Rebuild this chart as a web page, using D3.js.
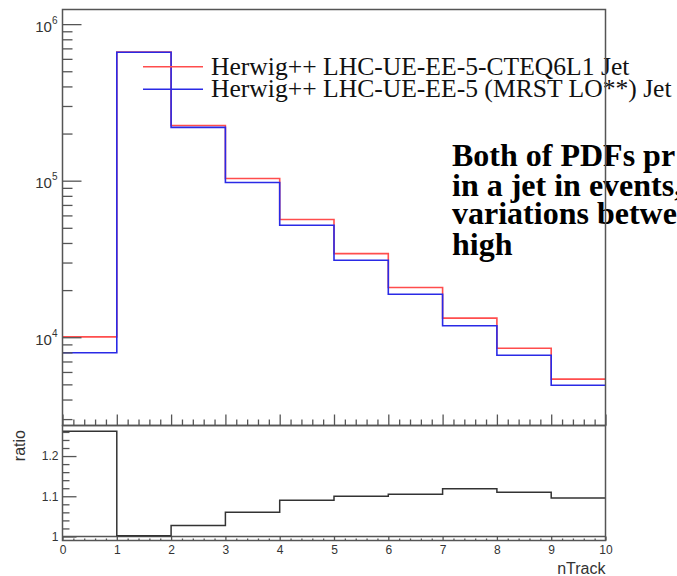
<!DOCTYPE html>
<html>
<head>
<meta charset="utf-8">
<script src="https://cdn.jsdelivr.net/npm/d3@7"></script>
<style>
  html, body { margin: 0; padding: 0; background: #fff; }
  svg { display: block; }
</style>
</head>
<body>
<svg id="chart" width="677" height="576"></svg>
<script>
// nTrack bin edges (10 unit-wide bins)
const binEdges = [0, 1, 2, 3, 4, 5, 6, 7, 8, 9, 10];

// Entries per bin for the two tunes
const cteqValues = [10050, 662000, 225000, 103300, 56500, 34200, 20800, 13240, 8510, 5400];
const mrstValues = [7960, 661000, 219000, 97300, 51900, 31000, 18800, 11830, 7670, 4930];

// Ratio CTEQ6L1 / MRST LO** per bin
const ratioValues = [1.262, 1.002, 1.027, 1.060, 1.090, 1.100, 1.105, 1.119, 1.110, 1.096];

// Axis tick values
const mainMajorTicks = [1e4, 1e5, 1e6];
const mainMinorTicks = [3000, 4000, 5000, 6000, 7000, 8000, 9000,
  20000, 30000, 40000, 50000, 60000, 70000, 80000, 90000,
  200000, 300000, 400000, 500000, 600000, 700000, 800000, 900000];
const ratioMajorTicks = [1.0, 1.1, 1.2];
const ratioMinorTicks = [1.02, 1.04, 1.06, 1.08, 1.12, 1.14, 1.16, 1.18, 1.22, 1.24, 1.26];
const xMajorTicks = [0, 1, 2, 3, 4, 5, 6, 7, 8, 9, 10];
const xMinorTicks = [0.2, 0.4, 0.6, 0.8, 1.2, 1.4, 1.6, 1.8, 2.2, 2.4, 2.6, 2.8,
  3.2, 3.4, 3.6, 3.8, 4.2, 4.4, 4.6, 4.8, 5.2, 5.4, 5.6, 5.8, 6.2, 6.4, 6.6, 6.8,
  7.2, 7.4, 7.6, 7.8, 8.2, 8.4, 8.6, 8.8, 9.2, 9.4, 9.6, 9.8];

const legendLabels = ["Herwig++ LHC-UE-EE-5-CTEQ6L1 Jet", "Herwig++ LHC-UE-EE-5 (MRST LO**) Jet"];
const noteLines = ["Both of PDFs pr", "in a jet in events,", "variations betwe", "high"];

const svg = d3.select("#chart");
const left = 62.5, right = 605.5;
const mainTop = 9.5, mainBottom = 425.5, ratioBottom = 540.5;
const frameColor = "#555";
const sans = "'Liberation Sans', Arial, sans-serif";
const serif = "'Liberation Serif', 'Times New Roman', serif";

const x = d3.scaleLinear().domain([0, 10]).range([left, right]);
const yMain = d3.scaleLog().domain([2730, 1.24e6]).range([mainBottom, mainTop]);
const yRatio = d3.scaleLinear().domain([0.99, 1.276]).range([ratioBottom, mainBottom]);

// Step outline through the bin contents, last bin extended to the upper edge
function stepPoints(values) {
  const pts = values.map((v, i) => [binEdges[i], v]);
  pts.push([binEdges[binEdges.length - 1], values[values.length - 1]]);
  return pts;
}
const mainLine = d3.line().x(d => x(d[0])).y(d => yMain(d[1])).curve(d3.curveStepAfter);
const ratioLine = d3.line().x(d => x(d[0])).y(d => yRatio(d[1])).curve(d3.curveStepAfter);

// ---- upper pad: histograms ----
svg.append("path").datum(stepPoints(cteqValues))
  .attr("d", mainLine).attr("fill", "none")
  .attr("stroke", "#ff4d4d").attr("stroke-width", 1.6);
svg.append("path").datum(stepPoints(mrstValues))
  .attr("d", mainLine).attr("fill", "none")
  .attr("stroke", "#2a2ae6").attr("stroke-width", 1.6);

// ---- lower pad: ratio ----
svg.append("line")
  .attr("x1", left).attr("x2", right)
  .attr("y1", yRatio(1)).attr("y2", yRatio(1))
  .attr("stroke", frameColor).attr("stroke-width", 1.3);
svg.append("path").datum(stepPoints(ratioValues))
  .attr("d", ratioLine).attr("fill", "none")
  .attr("stroke", "#333").attr("stroke-width", 1.5);

// ---- axes ----
function styleAxis(g) {
  g.select(".domain").remove();
  g.selectAll(".tick line").attr("stroke", frameColor).attr("stroke-width", 1.3);
  g.selectAll("text").attr("fill", "#333").attr("font-family", sans);
}

// main y: decade labels 10^n
const yMainMajor = svg.append("g").attr("transform", `translate(${left},0)`)
  .call(d3.axisLeft(yMain).tickValues(mainMajorTicks).tickSize(-19).tickPadding(5)
    .tickFormat(() => ""));
styleAxis(yMainMajor);
yMainMajor.selectAll(".tick text").each(function(d) {
  const t = d3.select(this).attr("font-size", 15).attr("dy", "0.75em").attr("y", -4);
  t.append("tspan").text("10");
  t.append("tspan").attr("font-size", 10).attr("dy", "-0.8em").text(Math.round(Math.log10(d)));
});
styleAxis(svg.append("g").attr("transform", `translate(${left},0)`)
  .call(d3.axisLeft(yMain).tickValues(mainMinorTicks).tickSize(-10).tickFormat(() => "")));

// main x: ticks only
styleAxis(svg.append("g").attr("transform", `translate(0,${mainBottom})`)
  .call(d3.axisBottom(x).tickValues(xMajorTicks).tickSize(-11).tickFormat(() => "")));
styleAxis(svg.append("g").attr("transform", `translate(0,${mainBottom})`)
  .call(d3.axisBottom(x).tickValues(xMinorTicks).tickSize(-6).tickFormat(() => "")));

// ratio y
const yRatioMajor = svg.append("g").attr("transform", `translate(${left},0)`)
  .call(d3.axisLeft(yRatio).tickValues(ratioMajorTicks).tickSize(-14).tickPadding(4)
    .tickFormat(d => d === 1 ? "1" : d3.format(".1f")(d)));
styleAxis(yRatioMajor);
yRatioMajor.selectAll(".tick text").attr("font-size", 12);
styleAxis(svg.append("g").attr("transform", `translate(${left},0)`)
  .call(d3.axisLeft(yRatio).tickValues(ratioMinorTicks).tickSize(-7).tickFormat(() => "")));

// ratio x
const xRatioMajor = svg.append("g").attr("transform", `translate(0,${ratioBottom})`)
  .call(d3.axisBottom(x).tickValues(xMajorTicks).tickSize(-4).tickPadding(5).tickFormat(d3.format("d")));
styleAxis(xRatioMajor);
xRatioMajor.selectAll(".tick text").attr("font-size", 12);
styleAxis(svg.append("g").attr("transform", `translate(0,${ratioBottom})`)
  .call(d3.axisBottom(x).tickValues(xMinorTicks).tickSize(-2).tickFormat(() => "")));

// axis titles
svg.append("text").attr("x", right).attr("y", 574)
  .attr("text-anchor", "end").attr("font-family", sans).attr("font-size", 16)
  .attr("fill", "#333").text("nTrack");
svg.append("text").attr("transform", "translate(25,430) rotate(-90)")
  .attr("text-anchor", "end").attr("font-family", sans).attr("font-size", 16)
  .attr("fill", "#333").text("ratio");

// ---- legend ----
const legendColors = ["#ff4d4d", "#2a2ae6"];
const legendY = [66.7, 89.3];
legendLabels.forEach((label, i) => {
  svg.append("line").attr("x1", 143).attr("x2", 203)
    .attr("y1", legendY[i]).attr("y2", legendY[i])
    .attr("stroke", legendColors[i]).attr("stroke-width", 1.6);
  svg.append("text").attr("x", 211).attr("y", legendY[i] + 8)
    .attr("font-family", serif).attr("font-size", 25.6).attr("fill", "#111")
    .text(label);
});

// ---- annotation ----
const noteBaselines = [166, 196, 224, 255];
noteLines.forEach((line, i) => {
  svg.append("text").attr("x", 452).attr("y", noteBaselines[i])
    .attr("font-family", serif).attr("font-weight", "bold").attr("font-size", 32)
    .attr("fill", "#000").text(line);
});

// ---- frames (drawn last, on top) ----
svg.append("rect").attr("x", left).attr("y", mainTop)
  .attr("width", right - left).attr("height", mainBottom - mainTop)
  .attr("fill", "none").attr("stroke", frameColor).attr("stroke-width", 1.5);
svg.append("rect").attr("x", left).attr("y", mainBottom)
  .attr("width", right - left).attr("height", ratioBottom - mainBottom)
  .attr("fill", "none").attr("stroke", frameColor).attr("stroke-width", 1.5);
</script>
</body>
</html>
